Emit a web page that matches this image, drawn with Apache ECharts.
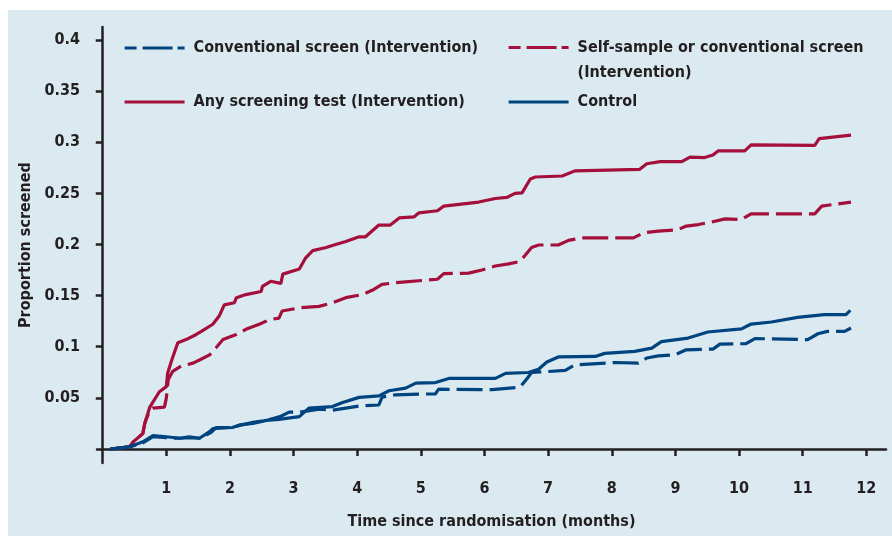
<!DOCTYPE html>
<html>
<head>
<meta charset="utf-8">
<script src="https://cdn.jsdelivr.net/npm/echarts@6/dist/echarts.min.js"></script>
<style>
  html, body { margin: 0; padding: 0; background: #fff; }
  #chart { width: 892px; height: 536px; }
</style>
</head>
<body>
<div id="chart"></div>
<script>
// [months, proportion]
const anyScreening = [[0.12,0],[0.42,0.002],[0.48,0.007],[0.63,0.015],[0.66,0.025],[0.74,0.041],[0.89,0.056],[1.0,0.061],[1.02,0.074],[1.08,0.086],[1.18,0.104],[1.31,0.107],[1.47,0.112],[1.55,0.115],[1.73,0.122],[1.83,0.130],[1.91,0.141],[2.07,0.143],[2.10,0.148],[2.25,0.151],[2.49,0.154],[2.51,0.159],[2.64,0.164],[2.80,0.162],[2.83,0.171],[3.09,0.176],[3.19,0.187],[3.30,0.194],[3.51,0.197],[3.66,0.200],[3.82,0.203],[4.03,0.2075],[4.13,0.2075],[4.34,0.219],[4.52,0.219],[4.66,0.226],[4.89,0.227],[4.97,0.231],[5.26,0.233],[5.36,0.2375],[5.91,0.2415],[6.17,0.245],[6.35,0.246],[6.48,0.250],[6.59,0.2505],[6.72,0.264],[6.80,0.266],[7.22,0.267],[7.42,0.272],[8.44,0.2735],[8.55,0.279],[8.76,0.281],[9.10,0.281],[9.23,0.2855],[9.46,0.285],[9.59,0.2875],[9.67,0.2915],[10.09,0.2915],[10.19,0.2975],[11.19,0.297],[11.26,0.3035],[11.76,0.307]];

const selfSample = [[0.12,0],[0.42,0.002],[0.48,0.007],[0.63,0.015],[0.66,0.025],[0.74,0.038],[0.79,0.040],[0.97,0.041],[1.0,0.05],[1.03,0.068],[1.10,0.076],[1.23,0.081],[1.42,0.084],[1.52,0.087],[1.68,0.092],[1.78,0.099],[1.89,0.107],[2.10,0.112],[2.25,0.117],[2.46,0.122],[2.62,0.1265],[2.77,0.128],[2.82,0.135],[3.09,0.138],[3.40,0.1395],[3.61,0.143],[3.82,0.148],[4.08,0.151],[4.26,0.156],[4.39,0.161],[4.66,0.163],[5.26,0.166],[5.36,0.1715],[5.75,0.172],[5.96,0.175],[6.17,0.179],[6.38,0.181],[6.56,0.1835],[6.74,0.197],[6.85,0.1995],[7.16,0.1995],[7.32,0.204],[7.53,0.2065],[8.34,0.2065],[8.50,0.2115],[8.73,0.213],[9.04,0.2145],[9.17,0.218],[9.36,0.2195],[9.57,0.222],[9.78,0.225],[10.04,0.2245],[10.19,0.230],[11.19,0.230],[11.30,0.2375],[11.76,0.2415]];

const control = [[0.12,0],[0.42,0.002],[0.63,0.007],[0.79,0.013],[1.0,0.012],[1.21,0.0105],[1.36,0.012],[1.52,0.0105],[1.68,0.017],[1.73,0.020],[2.04,0.021],[2.15,0.0235],[2.36,0.025],[2.57,0.028],[2.77,0.029],[3.09,0.0317],[3.24,0.040],[3.61,0.0415],[3.77,0.0455],[4.03,0.0505],[4.34,0.052],[4.50,0.057],[4.76,0.0595],[4.92,0.0644],[5.23,0.065],[5.44,0.069],[6.17,0.069],[6.33,0.074],[6.69,0.0748],[6.85,0.078],[6.98,0.085],[7.16,0.090],[7.74,0.0905],[7.89,0.0935],[8.36,0.0954],[8.63,0.0987],[8.78,0.105],[9.20,0.1085],[9.51,0.1144],[10.04,0.1174],[10.19,0.1222],[10.51,0.1242],[10.92,0.1287],[11.34,0.1314],[11.68,0.1314],[11.75,0.1356]];

const conventional = [[0.12,0],[0.42,0.002],[0.63,0.006],[0.79,0.012],[1.0,0.011],[1.21,0.0105],[1.36,0.011],[1.52,0.0105],[1.70,0.016],[1.78,0.021],[2.04,0.021],[2.15,0.023],[2.36,0.026],[2.57,0.028],[2.80,0.032],[2.93,0.036],[3.10,0.036],[3.40,0.039],[3.61,0.038],[3.82,0.040],[4.03,0.042],[4.34,0.043],[4.39,0.0507],[4.60,0.053],[5.23,0.054],[5.28,0.0585],[6.12,0.058],[6.56,0.0605],[6.67,0.069],[6.74,0.0748],[7.27,0.0768],[7.42,0.0823],[8.05,0.0846],[8.42,0.084],[8.55,0.089],[8.73,0.091],[8.99,0.092],[9.17,0.097],[9.59,0.0977],[9.70,0.1026],[10.11,0.103],[10.25,0.108],[11.08,0.107],[11.24,0.1127],[11.39,0.115],[11.66,0.115],[11.76,0.1183]];

const xTicks = [1, 2, 3, 4, 5, 6, 7, 8, 9, 10, 11, 12];
const yTicks = [0.05, 0.1, 0.15, 0.2, 0.25, 0.3, 0.35, 0.4];

const names = {
  conv: "Conventional screen (Intervention)",
  self: "Self-sample or conventional screen (Intervention)",
  any: "Any screening test (Intervention)",
  ctrl: "Control"
};

const RED = "#a40f3c";
const BLUE = "#00447f";
const INK = "#231f20";
const FONT = "'DejaVu Sans Condensed', 'DejaVu Sans', sans-serif";
const FSIZE = 16;
const DASH = [26, 7];
const LEGEND_DASH = [12, 6, 30, 5];

const legendText = {
  color: INK,
  fontFamily: FONT,
  fontWeight: "bold",
  fontSize: FSIZE,
  padding: [0, 0, 0, 4]
};

function legendAt(name, left, top, dashed) {
  return {
    data: [name],
    left: left,
    top: top,
    itemWidth: 60,
    itemHeight: 14,
    padding: 0,
    selectedMode: false,
    itemStyle: { opacity: 0 },
    lineStyle: { width: 3.2, type: dashed ? LEGEND_DASH : "solid" },
    textStyle: Object.assign({}, legendText)
  };
}

let chart = echarts.init(document.getElementById("chart"), null, { renderer: "canvas" });

// blank first line so the icon sits beside the first line of text
let selfLegend = legendAt(names.self, 507, 10, true);
selfLegend.textStyle.lineHeight = 25;
selfLegend.formatter = function () {
  return " \nSelf-sample or conventional screen\n(Intervention)";
};

let option = {
  backgroundColor: "#ffffff",
  animation: false,
  graphic: [
    {
      type: "rect",
      z: -10,
      silent: true,
      shape: { x: 8, y: 10, width: 884, height: 526 },
      style: { fill: "#dbeaf1" }
    }
  ],
  legend: [
    legendAt(names.conv, 123, 40, true),
    selfLegend,
    legendAt(names.any, 123, 94, false),
    legendAt(names.ctrl, 507, 94, false)
  ],
  grid: { left: 97, right: 6, top: 27, bottom: 73 },
  xAxis: {
    type: "value",
    min: -0.09,
    max: 12.31,
    name: "Time since randomisation (months)",
    nameLocation: "middle",
    nameGap: 51,
    nameTextStyle: { color: INK, fontFamily: FONT, fontWeight: "bold", fontSize: FSIZE },
    axisLine: { lineStyle: { color: INK, width: 2.5 } },
    axisTick: { customValues: xTicks, length: 7, lineStyle: { color: INK, width: 2.5 } },
    axisLabel: {
      customValues: xTicks,
      margin: 18,
      color: INK,
      fontFamily: FONT,
      fontWeight: "bold",
      fontSize: FSIZE
    },
    splitLine: { show: false }
  },
  yAxis: {
    type: "value",
    min: -0.0137,
    max: 0.4127,
    name: "Proportion screened",
    nameLocation: "middle",
    nameGap: 55,
    nameTextStyle: { color: INK, fontFamily: FONT, fontWeight: "bold", fontSize: FSIZE },
    axisLine: { show: true, lineStyle: { color: INK, width: 2.5 } },
    axisTick: { show: true, customValues: yTicks, length: 7, lineStyle: { color: INK, width: 2.5 } },
    axisLabel: {
      customValues: yTicks,
      margin: 17,
      color: INK,
      fontFamily: FONT,
      fontWeight: "bold",
      fontSize: FSIZE,
      formatter: function (v) {
        return String(+v.toFixed(2));
      }
    },
    splitLine: { show: false }
  },
  series: [
    {
      name: names.self,
      type: "line",
      data: selfSample,
      symbol: "none",
      lineStyle: { color: RED, width: 3.2, type: DASH },
      itemStyle: { color: RED }
    },
    {
      name: names.any,
      type: "line",
      data: anyScreening,
      symbol: "none",
      lineStyle: { color: RED, width: 3.2 },
      itemStyle: { color: RED }
    },
    {
      name: names.conv,
      type: "line",
      data: conventional,
      symbol: "none",
      lineStyle: { color: BLUE, width: 3.2, type: DASH },
      itemStyle: { color: BLUE }
    },
    {
      name: names.ctrl,
      type: "line",
      data: control,
      symbol: "none",
      lineStyle: { color: BLUE, width: 3.2 },
      itemStyle: { color: BLUE }
    }
  ]
};

chart.setOption(option);
</script>
</body>
</html>
